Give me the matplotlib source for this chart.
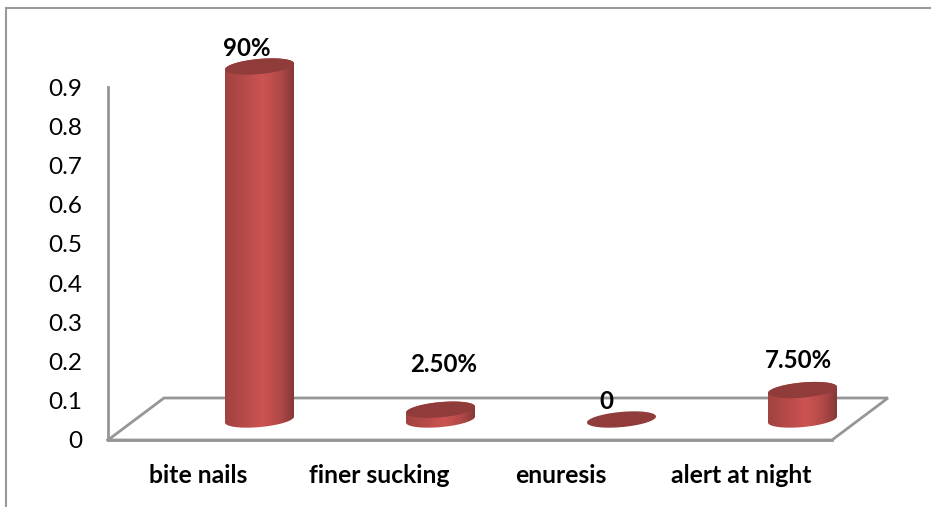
import numpy as np
import matplotlib
matplotlib.use('Agg')
import matplotlib.pyplot as plt
from matplotlib.colors import LinearSegmentedColormap
from matplotlib.lines import Line2D
from matplotlib.patches import Polygon

categories = ['bite nails', 'finer sucking', 'enuresis', 'alert at night']
values = [0.9, 0.025, 0.0, 0.075]
value_labels = ['90%', '2.50%', '0', '7.50%']
y_ticks = [0, 0.1, 0.2, 0.3, 0.4, 0.5, 0.6, 0.7, 0.8, 0.9]
y_tick_labels = ['0', '0.1', '0.2', '0.3', '0.4', '0.5', '0.6', '0.7', '0.8', '0.9']

W, H = 931, 507
plt.rcParams['font.family'] = ['Lato', 'DejaVu Sans']

fig = plt.figure(figsize=(W / 100, H / 100), dpi=100, facecolor='white')

# Plot area in pixels
left, right, top, bottom = 108, 832, 87, 440
ax = fig.add_axes([left / W, 1 - bottom / H, (right - left) / W, (bottom - top) / H])
ax.set_xlim(-0.5, 3.5)
ax.set_ylim(0, 0.9)
ax.patch.set_visible(False)

px_x = (right - left) / 4
px_y = (bottom - top) / 0.9

grey = '#969696'
for s in ['top', 'right']:
    ax.spines[s].set_visible(False)
for s in ['left', 'bottom']:
    ax.spines[s].set_color(grey)
    ax.spines[s].set_linewidth(2)

ax.set_xticks(range(4))
ax.set_xticklabels(categories, fontsize=17.8, fontweight='bold', color='black')
ax.set_yticks(y_ticks)
ax.set_yticklabels(y_tick_labels, fontsize=17.5, color='black')
ax.tick_params(axis='x', length=0, pad=17)
ax.tick_params(axis='y', length=0, pad=18.5)

# Floor of the 3D box
depth_x = 56 / px_x
depth_y = 42 / px_y
ax.plot([-0.5, -0.5 + depth_x, 3.5 + depth_x, 3.5, -0.5],
        [0, depth_y, depth_y, 0, 0],
        color=grey, lw=2, clip_on=False, solid_joinstyle='miter', zorder=1)

# Cylinder geometry
a = 34.5 / px_x
b = 7.6 / px_y
tilt = 3.0 / px_y
shift_x = 61 / px_x
shift_y = 20.5 / px_y

shade = LinearSegmentedColormap.from_list('cyl', [
    (0.0, '#a04341'), (0.3, '#b84b49'), (0.55, '#cc5452'),
    (0.8, '#b24948'), (1.0, '#853837')])
gradient = np.linspace(0, 1, 256).reshape(1, -1)
t_top = np.linspace(0, np.pi, 80)
t_bot = np.linspace(np.pi, 2 * np.pi, 80)


def ellipse(cx, cy, t):
    return np.column_stack([cx + a * np.cos(t),
                            cy + tilt * np.cos(t) + b * np.sin(t)])


for i, v in enumerate(values):
    cx = i + shift_x
    y0 = shift_y
    y1 = shift_y + v
    if v > 0:
        outline = np.vstack([ellipse(cx, y0, t_bot), ellipse(cx, y1, t_top)])
        body = Polygon(outline, closed=True, fc='none', ec='none', clip_on=False)
        ax.add_patch(body)
        im = ax.imshow(gradient, cmap=shade, aspect='auto', zorder=3,
                       extent=(cx - a, cx + a, y0 - 2 * b, y1 + 2 * b))
        # the tall cylinder rises above the axes box
        im.set_clip_box(fig.bbox)
        im.set_clip_path(body)
    cap = ellipse(cx, y1, np.linspace(0, 2 * np.pi, 160))
    ax.add_patch(Polygon(cap, closed=True, fc='#8f3c3b', ec='none', zorder=4, clip_on=False))

# imshow resets the limits
ax.set_xlim(-0.5, 3.5)
ax.set_ylim(0, 0.9)

# Value labels sit above each cylinder
label_offsets = [0.046, 0.116, 0.047, 0.076]
label_dx = [-0.069, 0.019, -0.085, -0.025]
for i, (v, lab) in enumerate(zip(values, value_labels)):
    ax.text(i + shift_x + label_dx[i], shift_y + v + label_offsets[i], lab,
            ha='center', va='center', fontsize=17.3, fontweight='bold',
            color='black', clip_on=False, zorder=5)

# Chart border, only the top and left edges show
fig.add_artist(Line2D([6 / W, 6 / W, 1], [0, 1 - 7.5 / H, 1 - 7.5 / H],
                      transform=fig.transFigure, color='#9a9a9a', lw=1.5,
                      solid_joinstyle='miter'))

fig.savefig('out.png', dpi=100)
